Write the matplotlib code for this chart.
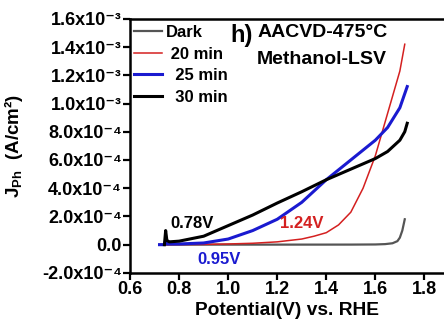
import numpy as np
import matplotlib
matplotlib.use("Agg")
import matplotlib.pyplot as plt
from matplotlib.ticker import FixedLocator, FixedFormatter

plt.rcParams['font.family'] = ['Liberation Sans', 'DejaVu Sans']
plt.rcParams['font.weight'] = 'bold'
plt.rcParams['mathtext.fontset'] = 'custom'
plt.rcParams['mathtext.rm'] = 'Liberation Sans:bold'
plt.rcParams['mathtext.bf'] = 'Liberation Sans:bold'
plt.rcParams['mathtext.it'] = 'Liberation Sans:bold'
plt.rcParams['mathtext.default'] = 'bf'

# LSV curves (current in A/cm^2)
x_dark = [0.72, 0.8, 1.0, 1.2, 1.4, 1.5, 1.6, 1.64, 1.67, 1.69, 1.70, 1.71, 1.72]
y_dark = [0.0, 0.02e-5, 0.03e-5, 0.04e-5, 0.05e-5, 0.06e-5, 0.15e-5, 0.4e-5,
          1.0e-5, 2.5e-5, 5.0e-5, 10e-5, 18e-5]

x_20 = [0.72, 0.9, 1.0, 1.1, 1.2, 1.3, 1.35, 1.4, 1.45, 1.5, 1.55, 1.6, 1.65, 1.7, 1.72]
y_20 = [0.0, 0.02e-4, 0.05e-4, 0.1e-4, 0.2e-4, 0.4e-4, 0.6e-4, 0.85e-4, 1.4e-4,
        2.3e-4, 4.0e-4, 6.3e-4, 9.3e-4, 12.3e-4, 14.2e-4]

x_25 = [0.72, 0.74, 0.745, 0.75, 0.8, 0.9, 1.0, 1.1, 1.2, 1.3, 1.35, 1.4, 1.5,
        1.6, 1.65, 1.7, 1.73]
y_25 = [0.0, 0.0, 0.3e-4, 0.05e-4, 0.05e-4, 0.12e-4, 0.4e-4, 1.0e-4, 1.8e-4,
        3.0e-4, 3.8e-4, 4.6e-4, 6.0e-4, 7.4e-4, 8.3e-4, 9.7e-4, 11.2e-4]

x_30 = [0.74, 0.745, 0.75, 0.76, 0.8, 0.9, 1.0, 1.1, 1.2, 1.3, 1.4, 1.5, 1.6,
        1.65, 1.7, 1.72, 1.73]
y_30 = [0.0, 1.0e-4, 0.3e-4, 0.2e-4, 0.25e-4, 0.6e-4, 1.35e-4, 2.1e-4, 2.95e-4,
        3.75e-4, 4.6e-4, 5.35e-4, 6.1e-4, 6.6e-4, 7.4e-4, 8.0e-4, 8.6e-4]

ytick_vals = [-2e-4, 0, 2e-4, 4e-4, 6e-4, 8e-4, 1.0e-3, 1.2e-3, 1.4e-3, 1.6e-3]
ytick_labels = ['-2.0x10⁻⁴', '0.0', '2.0x10⁻⁴', '4.0x10⁻⁴', '6.0x10⁻⁴',
                '8.0x10⁻⁴', '1.0x10⁻³', '1.2x10⁻³', '1.4x10⁻³', '1.6x10⁻³']
xtick_vals = [0.6, 0.8, 1.0, 1.2, 1.4, 1.6, 1.8]

fig = plt.figure(figsize=(4.44, 3.3), dpi=100)
ax = fig.add_axes([0.293, 0.173, 0.707, 0.770])

ax.plot(x_dark, y_dark, color='#555555', lw=1.6, label='Dark')
ax.plot(x_20, y_20, color='#d42020', lw=1.1, label=' 20 min')
ax.plot(x_25, y_25, color='#1a1ad0', lw=2.2, label='  25 min')
ax.plot(x_30, y_30, color='black', lw=2.2, label='  30 min')

ax.set_xlim(0.6, 1.88)
ax.set_ylim(-2e-4, 1.6e-3)
ax.xaxis.set_major_locator(FixedLocator(xtick_vals))
ax.set_xticklabels(['%.1f' % v for v in xtick_vals])
ax.yaxis.set_major_locator(FixedLocator(ytick_vals))
ax.yaxis.set_major_formatter(FixedFormatter(ytick_labels))

ax.spines['right'].set_visible(False)
for s in ['left', 'bottom', 'top']:
    ax.spines[s].set_linewidth(1.8)
ax.tick_params(direction='out', length=5, width=1.6, labelsize=13, pad=1)

ax.set_xlabel('Potential(V) vs. RHE', fontsize=13.8, fontweight='bold', labelpad=3)
ax.set_ylabel('J$_{Ph}$  (A/cm²)', fontsize=13.5, fontweight='bold')
ax.yaxis.set_label_coords(-0.335, 0.5)

ax.legend(loc='upper left', bbox_to_anchor=(-0.02, 1.015), frameon=False,
          handlelength=1.7, handletextpad=0.25, labelspacing=0.4,
          borderaxespad=0.2, prop={'weight': 'bold', 'size': 12})

ax.text(1.008, 1.48e-3, 'h)', fontsize=17, fontweight='bold', va='center', ha='left')
ax.text(1.118, 1.50e-3, 'AACVD-475°C', fontsize=14, fontweight='bold', va='center')
ax.text(1.118, 1.31e-3, 'Methanol-LSV', fontsize=14, fontweight='bold', va='center')

ax.text(0.763, 1.5e-4, '0.78V', color='black', fontsize=12, fontweight='bold', va='center')
ax.text(1.212, 1.5e-4, '1.24V', color='#d42020', fontsize=12, fontweight='bold', va='center')
ax.text(0.873, -1.04e-4, '0.95V', color='#1a1ad0', fontsize=12, fontweight='bold', va='center')

fig.savefig('out.png', dpi=100)
